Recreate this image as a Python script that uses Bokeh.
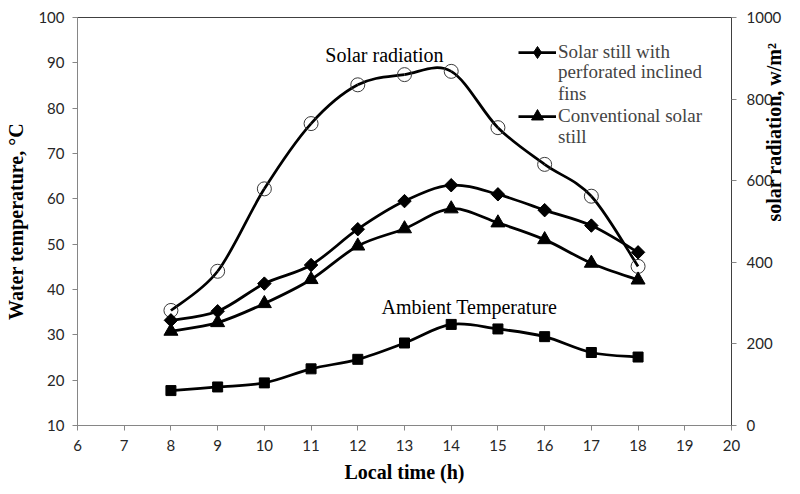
import math
import numpy as np
from bokeh.plotting import figure
from bokeh.models import Range1d, LinearAxis, FixedTicker, Legend, LegendItem
from bokeh.core.properties import value
from bokeh.embed import file_html
from bokeh.resources import INLINE

# ---- data ----
hours = [8, 9, 10, 11, 12, 13, 14, 15, 16, 17, 18]
fins_temp = [33.2, 35.2, 41.3, 45.4, 53.3, 59.5, 63.0, 61.0, 57.5, 54.1, 48.2]
conv_temp = [30.8, 32.7, 36.9, 42.2, 49.6, 53.4, 57.8, 54.7, 51.0, 45.8, 42.1]
ambient_temp = [17.7, 18.5, 19.4, 22.5, 24.6, 28.2, 32.3, 31.3, 29.6, 26.1, 25.1]
solar_rad = [282, 378, 580, 740, 835, 860, 868, 730, 640, 562, 390]

x_ticks = list(range(6, 21))
y_ticks = list(range(10, 101, 10))
rad_ticks = list(range(0, 1001, 200))
rad_title = "solar radiation, w/m²"

SERIF = "Liberation Serif"
SANS = "Lato"


def smooth(xs, ys, k=1.0 / 6.0):
    """Excel-like smoothed line: cubic Bezier control points from neighbours."""
    x = np.asarray(xs, float)
    y = np.asarray(ys, float)
    n = len(x)
    xp = np.r_[x[0], x, x[-1]]
    yp = np.r_[y[0], y, y[-1]]
    return dict(
        x0=x[:-1], y0=y[:-1], x1=x[1:], y1=y[1:],
        cx0=x[:-1] + (xp[2:n + 1] - xp[0:n - 1]) * k,
        cy0=y[:-1] + (yp[2:n + 1] - yp[0:n - 1]) * k,
        cx1=x[1:] - (xp[3:n + 2] - xp[1:n]) * k,
        cy1=y[1:] - (yp[3:n + 2] - yp[1:n]) * k,
    )


FW, FH = 654, 408
p = figure(frame_width=FW, frame_height=FH,
           x_range=Range1d(6, 20), y_range=Range1d(10, 100),
           output_backend="svg", toolbar_location=None,
           min_border_left=77, min_border_right=40,
           min_border_top=17, min_border_bottom=62)
p.extra_y_ranges = {"rad": Range1d(0, 1000)}

p.xgrid.grid_line_color = None
p.ygrid.grid_line_color = None
p.outline_line_color = "#404040"
p.outline_line_width = 1
p.background_fill_color = "white"
p.border_fill_color = "white"

LINE_W = 2.75

# Solar radiation (right axis)
s = smooth(hours, solar_rad)
p.bezier(line_color="black", line_width=LINE_W, y_range_name="rad", **s)
p.scatter(hours, solar_rad, marker="circle", size=14, fill_color=None,
          line_color="#3a3a3a", line_width=1, y_range_name="rad")

# Ambient
s = smooth(hours, ambient_temp)
p.bezier(line_color="black", line_width=LINE_W, **s)
p.scatter(hours, ambient_temp, marker="square", size=10, fill_color="black", line_color="black")

# Conventional
s = smooth(hours, conv_temp)
r_conv_line = p.bezier(line_color="black", line_width=LINE_W, **s)
r_conv_pts = p.scatter(hours, conv_temp, marker="triangle", size=14,
                       fill_color="black", line_color="black")

# Fins (diamond drawn underneath the rotated square; it supplies the legend glyph)
s = smooth(hours, fins_temp)
r_fins_line = p.bezier(line_color="black", line_width=LINE_W, **s)
r_fins_dia = p.scatter(hours, fins_temp, marker="diamond", size=12,
                       fill_color="black", line_color="black")
p.scatter(hours, fins_temp, marker="square", angle=math.pi / 4, size=9.5,
          fill_color="black", line_color="black")

leg_blank = p.scatter(x=[], y=[], marker="circle", fill_alpha=0, line_alpha=0)

# In-chart labels
p.text(x=[12.57], y=[91.8], text=["Solar radiation"], text_font=value(SERIF),
       text_font_size="20px", text_align="center", text_baseline="middle", text_color="black")
p.text(x=[14.39], y=[36.2], text=["Ambient Temperature"], text_font=value(SERIF),
       text_font_size="20px", text_align="center", text_baseline="middle", text_color="black")


def style_axis(ax, line_color="#868686"):
    ax.axis_line_color = line_color
    ax.major_tick_line_color = "#868686"
    ax.major_tick_out = 5
    ax.major_tick_in = 0
    ax.minor_tick_line_color = None
    ax.major_label_text_font = SANS
    ax.major_label_text_font_size = "15px"
    ax.major_label_text_color = "#262626"
    ax.axis_label_text_font = SERIF
    ax.axis_label_text_font_style = "bold"
    ax.axis_label_text_font_size = "20px"
    ax.axis_label_text_color = "black"


p.xaxis.ticker = FixedTicker(ticks=x_ticks)
p.yaxis.ticker = FixedTicker(ticks=y_ticks)
p.xaxis.axis_label = "Local time (h)"
p.yaxis.axis_label = "Water temperature, °C"
style_axis(p.xaxis[0])
style_axis(p.yaxis[0])
p.xaxis.major_label_standoff = 9
p.xaxis.axis_label_standoff = 7
p.yaxis.major_label_standoff = 8
p.yaxis.axis_label_standoff = 8

rax = LinearAxis(y_range_name="rad", ticker=FixedTicker(ticks=rad_ticks))
style_axis(rax, line_color="#404040")
rax.major_label_standoff = 10
p.add_layout(rax, "right")

# right-hand title, drawn as the single (rotated) label of a bare second axis
mid = (rad_ticks[0] + rad_ticks[-1]) / 2
rtitle = LinearAxis(y_range_name="rad", ticker=FixedTicker(ticks=[mid]),
                    major_label_overrides={mid: rad_title})
rtitle.axis_line_color = None
rtitle.major_tick_line_color = None
rtitle.minor_tick_line_color = None
rtitle.major_tick_out = 0
rtitle.major_tick_in = 0
rtitle.major_label_text_font = SERIF
rtitle.major_label_text_font_style = "bold"
rtitle.major_label_text_font_size = "20px"
rtitle.major_label_text_color = "black"
rtitle.major_label_orientation = math.pi / 2
rtitle.major_label_standoff = -11
p.add_layout(rtitle, "right")


def make_legend(items, loc, glyph_h, spacing):
    lg = Legend(items=items, location=loc)
    lg.margin = 0
    lg.padding = 0
    lg.spacing = spacing
    lg.border_line_color = None
    lg.background_fill_alpha = 0
    lg.label_text_font = SERIF
    lg.label_text_font_size = "19px"
    lg.label_standoff = 2
    lg.glyph_width = 38
    lg.glyph_height = glyph_h
    lg.label_height = 21
    return lg


# glyph rows (first line of each entry)
leg_a = make_legend([
    LegendItem(label="Solar still with", renderers=[r_fins_line, r_fins_dia]),
    LegendItem(label="Conventional solar", renderers=[r_conv_line, r_conv_pts]),
], (441, 294), 30, 34)
# continuation lines of the wrapped entries
leg_b = make_legend([
    LegendItem(label="perforated inclined", renderers=[leg_blank]),
    LegendItem(label="fins", renderers=[leg_blank]),
    LegendItem(label=" ", renderers=[leg_blank]),
    LegendItem(label="still", renderers=[leg_blank]),
], (441, 277), 21, 0)
p.add_layout(leg_a, "center")
p.add_layout(leg_b, "center")

open("out.html", "w").write(file_html(p, INLINE))
